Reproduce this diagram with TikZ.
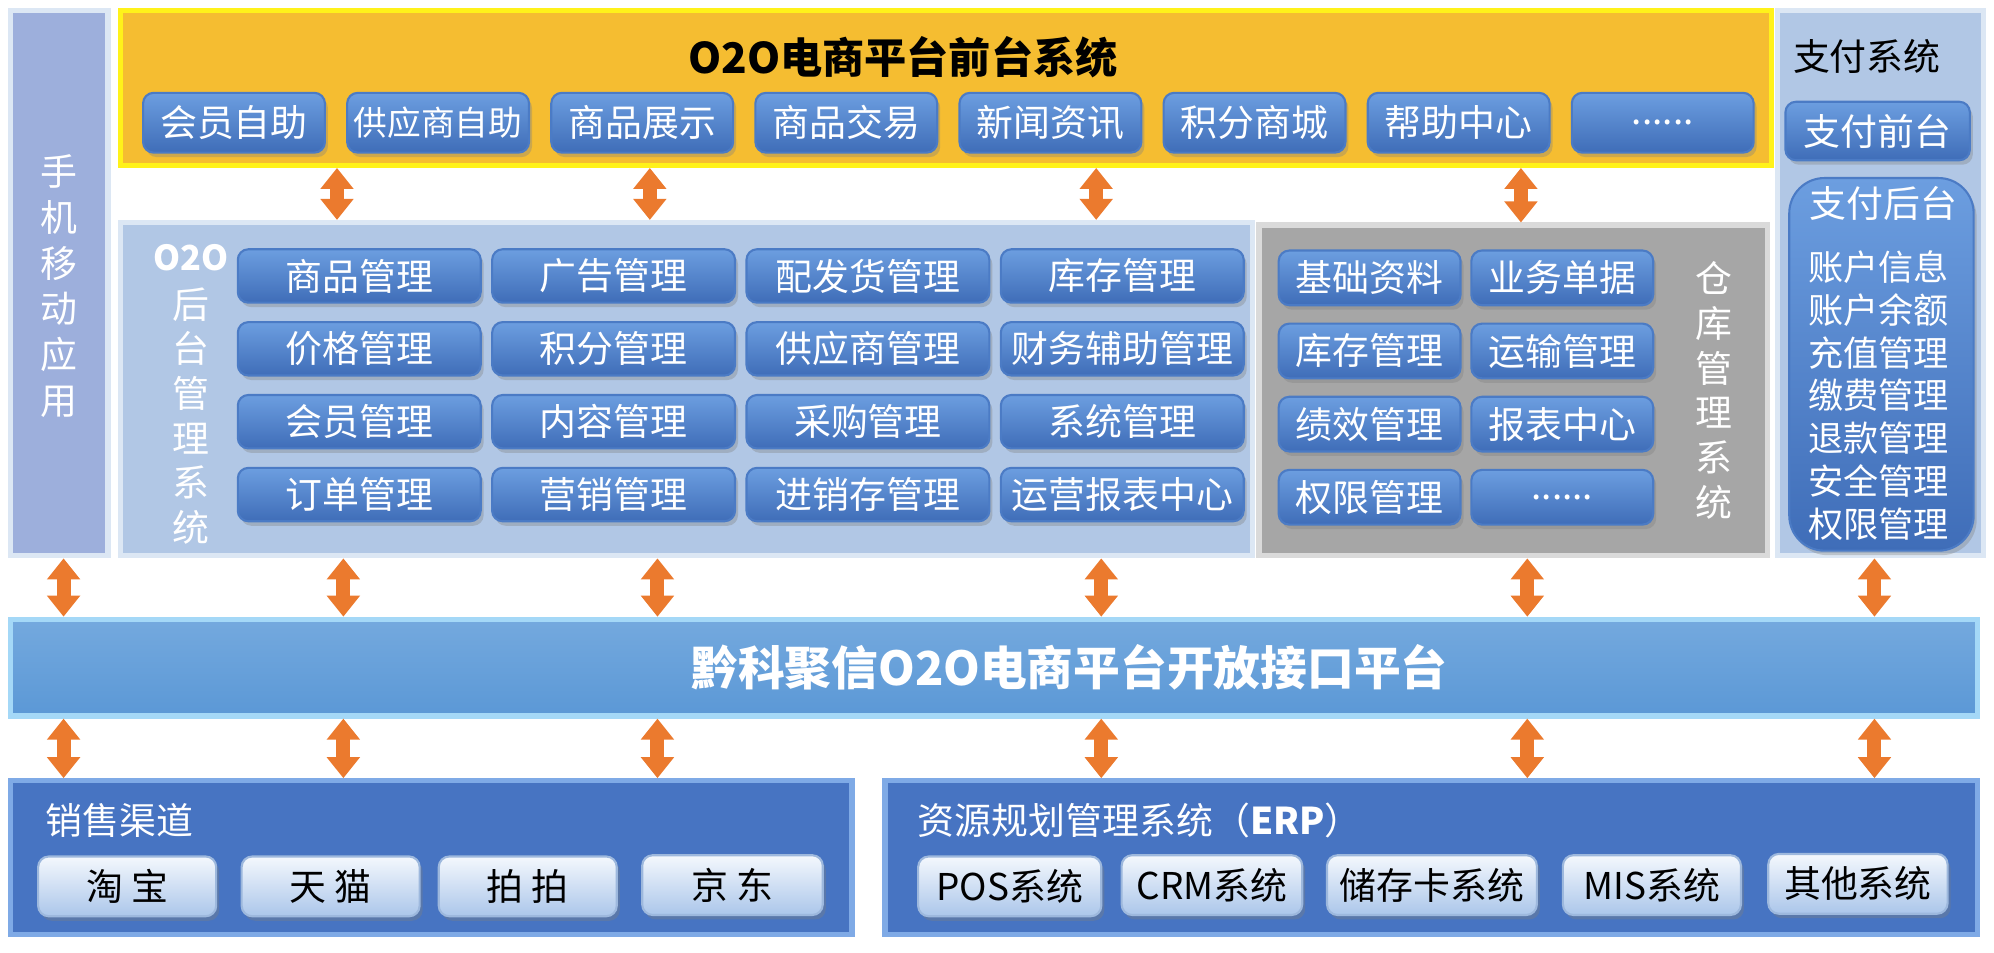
\documentclass[tikz,border=0pt]{standalone}
\usepackage{fontspec}
\setmainfont{Noto Sans CJK SC}
\usetikzlibrary{fit,shadows,arrows.meta}

\definecolor{frontyellow}{HTML}{F5BD31}
\definecolor{frontedge}{HTML}{FFF21A}
\definecolor{paleblue}{HTML}{B1C7E5}
\definecolor{paleedge}{HTML}{DCE7F4}
\definecolor{mobileblue}{HTML}{9DAFDC}
\definecolor{storegray}{HTML}{A6A6A6}
\definecolor{storeedge}{HTML}{DADADA}
\definecolor{apitop}{HTML}{74A9DE}
\definecolor{apibot}{HTML}{5B98D6}
\definecolor{apiedge}{HTML}{A4D8F7}
\definecolor{deepblue}{HTML}{4774C2}
\definecolor{deepedge}{HTML}{7FAAE6}
\definecolor{btntop}{HTML}{6C9EE0}
\definecolor{btnbot}{HTML}{3F6DB8}
\definecolor{btnedge}{HTML}{4B7BC5}
\definecolor{lbtntop}{HTML}{F4F8FD}
\definecolor{lbtnbot}{HTML}{ABC6EA}
\definecolor{lbtnedge}{HTML}{9DB8DD}
\definecolor{linkorange}{HTML}{EB7A2E}

\newcommand*{\pxu}{0.12717mm}
\newcommand*{\btnfont}{\fontsize{10.5}{12}\selectfont}
\newcommand*{\moredots}{......}

\begin{document}
\begin{tikzpicture}[
		x=\pxu, y=-\pxu,
		panel/.style={inner sep=0pt,line width=1.5pt},
		front/.style={panel,fill=frontyellow,draw=frontedge},
		pale/.style={panel,fill=paleblue,draw=paleedge},
		mobile/.style={panel,fill=mobileblue,draw=paleedge},
		store/.style={panel,fill=storegray,draw=storeedge},
		api/.style={panel,top color=apitop,bottom color=apibot,draw=apiedge},
		deep/.style={panel,fill=deepblue,draw=deepedge},
		btn/.style={inner sep=0pt,rounded corners=3pt,top color=btntop,bottom color=btnbot,
			draw=btnedge,line width=0.6pt,text=white,font=\btnfont,
			drop shadow={shadow xshift=0.3mm,shadow yshift=-0.45mm,opacity=0.35}},
		fbtn/.style={btn,minimum width=143*\pxu,minimum height=47*\pxu},
		bbtn/.style={btn,minimum width=191*\pxu,minimum height=42*\pxu},
		wbtn/.style={btn,minimum width=143*\pxu,minimum height=43*\pxu},
		lbtn/.style={btn,top color=lbtntop,bottom color=lbtnbot,draw=lbtnedge,text=black,
			minimum width=#1*\pxu,minimum height=47*\pxu},
		vlabel/.style={align=center,text=white,font=\fontsize{10.5}{12.7}\selectfont},
		link/.style={<->,>={Triangle[width=3.2mm,length=2.1mm]},draw=linkorange,line width=1.4mm},
]

\useasboundingbox (0,0) rectangle (1568,749);

% panels
\node [mobile,fit={(8,8) (85,437)}] (mobile) {};
\node [front,fit={(95,8) (1393,130)}] (front) {};
\node [pale,fit={(95,175) (985,437)}] (back) {};
\node [store,fit={(990,177) (1390,437)}] (store) {};
\node [pale,fit={(1398,8) (1560,437)}] (pay) {};
\node [api,fit={(8,487) (1555,563)}] (api) {};
\node [deep,fit={(8,614) (670,735)}] (sales) {};
\node [deep,fit={(696,614) (1555,735)}] (erp) {};

% front end
\node [font=\bfseries\fontsize{12}{14}\selectfont] (fronttitle) at (710,45) {O2O电商平台前台系统};
\foreach \t [count=\i from 0] in {会员自助,{\fontsize{9.6}{11}\selectfont 供应商自助},商品展示,商品交易,新闻资讯,积分商城,帮助中心,\moredots}
	\node [fbtn] (f\i) at (184+160.5*\i,96.5) {\t};

% back office
\node [vlabel,font=\bfseries\fontsize{9.8}{12}\selectfont] (backo2o) at (150,203) {O2O};
\node [vlabel] (backtext) at (150,327) {后\\台\\管\\理\\系\\统};
\foreach \a/\b/\c/\d [count=\r from 0] in {商品管理/广告管理/配发货管理/库存管理,
		价格管理/积分管理/供应商管理/财务辅助管理,
		会员管理/内容管理/采购管理/系统管理,
		订单管理/营销管理/进销存管理/运营报表中心} {
	\node [bbtn] (b\r a) at (282.5,217+57.3*\r) {\a};
	\node [bbtn] (b\r b) at (482.5,217+57.3*\r) {\b};
	\node [bbtn] (b\r c) at (682.5,217+57.3*\r) {\c};
	\node [bbtn] (b\r d) at (882.5,217+57.3*\r) {\d};
}

% warehouse
\node [vlabel] (storetext) at (1348,307) {仓\\库\\管\\理\\系\\统};
\foreach \a/\b [count=\r from 0] in {基础资料/业务单据,库存管理/运输管理,绩效管理/报表中心,权限管理/\moredots} {
	\node [wbtn] (w\r a) at (1077,218.5+57.5*\r) {\a};
	\node [wbtn] (w\r b) at (1228.5,218.5+57.5*\r) {\b};
}

% payment
\node [font=\btnfont] (paytitle) at (1468,44) {支付系统};
\node [btn,minimum width=145*\pxu,minimum height=46*\pxu] (payfront) at (1476.5,103) {支付前台};
\node [btn,rounded corners=10pt,fit={(1407,140) (1552,433)}] (payback) {};
\node [text=white,font=\btnfont] (paybacktitle) at (1481,160) {支付后台};
\node [align=center,text=white,font=\fontsize{10}{12.2}\selectfont] (paylist) at (1477,311)
	{账户信息\\账户余额\\充值管理\\缴费管理\\退款管理\\安全管理\\权限管理};

% mobile
\node [vlabel,font=\fontsize{10.5}{13}\selectfont] (mobiletext) at (46,225) {手\\机\\移\\动\\应\\用};

% open interface
\node [text=white,font=\bfseries\fontsize{13.3}{15}\selectfont] (apititle) at (841,525) {黔科聚信O2O电商平台开放接口平台};

% channels
\node [anchor=west,text=white,font=\btnfont] (salestitle) at (26,645) {销售渠道};
\node [lbtn=140] (s1) at (100,697) {淘 宝};
\node [lbtn=140] (s2) at (260,697) {天 猫};
\node [lbtn=140] (s3) at (415,697) {拍 拍};
\node [lbtn=142] (s4) at (576,696) {京 东};

\node [anchor=west,text=white,font=\btnfont] (erptitle) at (712,645) {资源规划管理系统（{\bfseries ERP}）};
\node [lbtn=144] (e1) at (794,697) {POS系统};
\node [lbtn=142] (e2) at (953,696) {CRM系统};
\node [lbtn=165] (e3) at (1126,696) {储存卡系统};
\node [lbtn=140] (e4) at (1299,696) {MIS系统};
\node [lbtn=141] (e5) at (1461,695) {其他系统};

% links
\coordinate (t1) at (265,0);
\coordinate (t2) at (511,0);
\coordinate (t3) at (862,0);
\coordinate (t4) at (1196,0);
\coordinate (a1) at (50,0);
\coordinate (a2) at (270,0);
\coordinate (a3) at (517,0);
\coordinate (a4) at (866,0);
\coordinate (a5) at (1201,0);
\coordinate (a6) at (1474,0);

\foreach \k in {1,2,3}
	\draw [link] (front.south -| t\k) -- (back.north -| t\k);
\draw [link] (front.south -| t4) -- (store.north -| t4);

\draw [link] (mobile.south -| a1) -- (api.north -| a1);
\foreach \k in {2,3,4}
	\draw [link] (back.south -| a\k) -- (api.north -| a\k);
\draw [link] (store.south -| a5) -- (api.north -| a5);
\draw [link] (pay.south -| a6) -- (api.north -| a6);

\foreach \k in {1,2,3}
	\draw [link] (api.south -| a\k) -- (sales.north -| a\k);
\foreach \k in {4,5,6}
	\draw [link] (api.south -| a\k) -- (erp.north -| a\k);

\end{tikzpicture}
\end{document}
